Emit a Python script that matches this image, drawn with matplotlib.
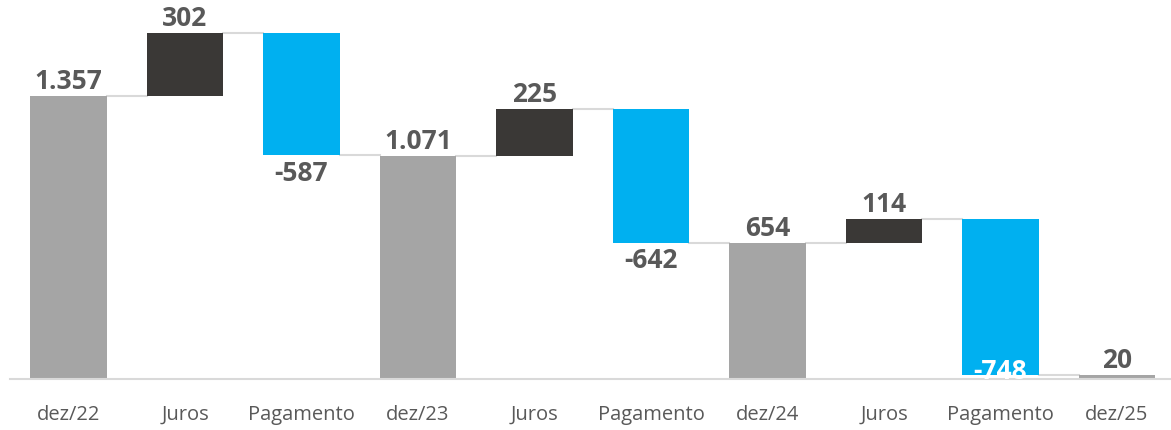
import matplotlib
matplotlib.use("Agg")
import matplotlib.pyplot as plt

categories = ["dez/22", "Juros", "Pagamento", "dez/23", "Juros", "Pagamento",
              "dez/24", "Juros", "Pagamento", "dez/25"]
values = [1357, 302, -587, 1071, 225, -642, 654, 114, -748, 20]
kinds = ["total", "up", "down", "total", "up", "down", "total", "up", "down", "total"]
labels = ["1.357", "302", "-587", "1.071", "225", "-642", "654", "114", "-748", "20"]

colors = {"total": "#A5A5A5", "up": "#3A3836", "down": "#00B0F0"}
text_col = "#595959"

plt.rcParams["font.family"] = ["Open Sans", "DejaVu Sans"]

fig = plt.figure(figsize=(11.71, 4.31), dpi=100)
ax = fig.add_axes([10.25 / 1171, 51 / 431, 1165 / 1171, 380 / 431])

w = 0.66
level = 0
bottoms, tops, patches = [], [], []
for i, (v, k) in enumerate(zip(values, kinds)):
    if k == "total":
        b, t = 0, v
        level = v
    elif k == "up":
        b, t = level, level + v
        level = t
    else:
        b, t = level + v, level
        level = b
    bottoms.append(b)
    tops.append(t)
    bars = ax.bar(i, t - b, bottom=b, width=w, color=colors[k], zorder=2)
    patches.append(bars[0])

# connectors
for i in range(len(values) - 1):
    if kinds[i] == "down":
        y = bottoms[i]
    else:
        y = tops[i]
    ax.plot([i + w / 2, i + 1 - w / 2], [y, y], color="#D9D9D9", lw=1.5, zorder=1)

# value labels
for i, (k, lab) in enumerate(zip(kinds, labels)):
    if k == "down":
        if bottoms[i] < 120:
            # no room below: white label inside the bar, clipped by it
            t = ax.text(i, bottoms[i] - 45, lab, ha="center", va="bottom", fontsize=19,
                        fontweight="bold", color="white", zorder=3)
            t.set_clip_path(patches[i])
        else:
            ax.text(i, bottoms[i] - 15, lab, ha="center", va="top", fontsize=19,
                    fontweight="bold", color=text_col)
    else:
        ax.text(i, tops[i] + 8, lab, ha="center", va="bottom", fontsize=19,
                fontweight="bold", color=text_col)

ax.set_xlim(-0.5, 9.5)
ax.set_ylim(0, 1822)
ax.set_xticks(range(len(categories)))
ax.set_xticklabels(categories, fontsize=14.5, color=text_col)
ax.tick_params(axis="x", length=0, pad=18)
ax.set_yticks([])
for s in ["top", "right", "left"]:
    ax.spines[s].set_visible(False)
ax.spines["bottom"].set_color("#D9D9D9")
ax.spines["bottom"].set_linewidth(1.5)

fig.savefig("out.png", dpi=100)
